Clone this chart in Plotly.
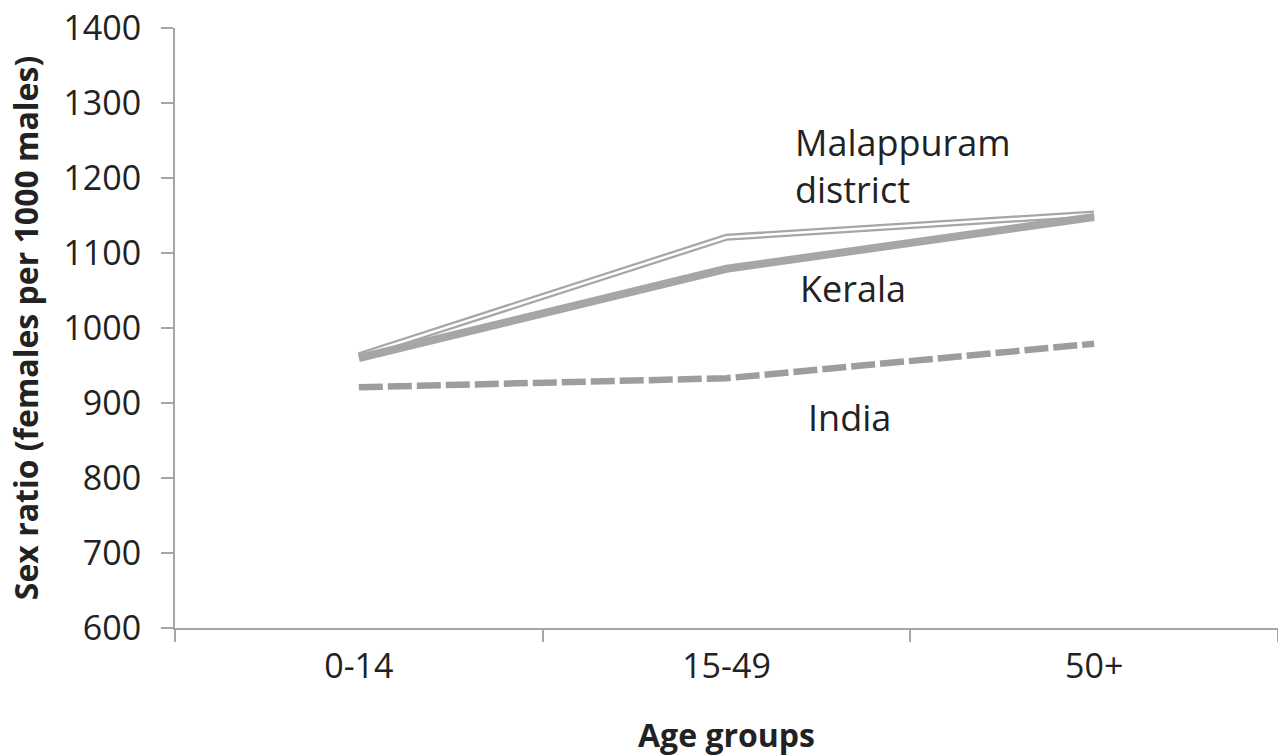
import plotly.graph_objects as go

categories = ["0-14", "15-49", "50+"]
malappuram = [963, 1121, 1152]
kerala = [960, 1079, 1148]
india = [921, 933, 979]
y_ticks = [600, 700, 800, 900, 1000, 1100, 1200, 1300, 1400]

gray = "#a6a6a8"
axis_gray = "#a6a6a6"
text_color = "#222222"
font_family = "Open Sans"

fig = go.Figure()
# Malappuram: double line (gray outline with white core)
fig.add_trace(go.Scatter(x=categories, y=malappuram, mode="lines",
                         line=dict(color=gray, width=7), showlegend=False, hoverinfo="skip"))
fig.add_trace(go.Scatter(x=categories, y=malappuram, mode="lines",
                         line=dict(color="white", width=2.5), showlegend=False, name="Malappuram district"))
fig.add_trace(go.Scatter(x=categories, y=kerala, mode="lines",
                         line=dict(color=gray, width=8), showlegend=False, name="Kerala"))
fig.add_trace(go.Scatter(x=categories, y=india, mode="lines",
                         line=dict(color="#9d9da1", width=6.5, dash="24px,5px"), showlegend=False, name="India"))

ann_font = dict(family=font_family, size=36, color=text_color)
fig.add_annotation(x=1.18, y=1216, xref="x", yref="y", text="Malappuram<br>district",
                   showarrow=False, xanchor="left", yanchor="middle", align="left", font=ann_font)
fig.add_annotation(x=1.195, y=1053, xref="x", yref="y", text="Kerala",
                   showarrow=False, xanchor="left", yanchor="middle", align="left", font=ann_font)
fig.add_annotation(x=1.215, y=881, xref="x", yref="y", text="India",
                   showarrow=False, xanchor="left", yanchor="middle", align="left", font=ann_font)

fig.update_layout(
    width=1278, height=756,
    margin=dict(l=175, r=0, t=28, b=128, autoexpand=False),
    paper_bgcolor="white", plot_bgcolor="white",
    font=dict(family=font_family, color=text_color),
)
fig.update_xaxes(
    type="category", range=[-0.5, 2.5], automargin=False,
    showline=True, linecolor=axis_gray, linewidth=2,
    ticks="outside", tickson="boundaries", ticklen=12, tickcolor=axis_gray, tickwidth=2,
    showgrid=False, zeroline=False,
    tickfont=dict(family=font_family, size=34, color=text_color),
    ticklabelstandoff=7,
    title=dict(text="<b>Age groups</b>", font=dict(family=font_family, size=32, color=text_color), standoff=38),
)
fig.update_yaxes(
    range=[600, 1400], tickvals=y_ticks, automargin=False,
    showline=True, linecolor=axis_gray, linewidth=2,
    ticks="outside", ticklen=12, tickcolor=axis_gray, tickwidth=2,
    showgrid=False, zeroline=False,
    tickfont=dict(family=font_family, size=34, color=text_color),
    ticklabelstandoff=13, ticklabeloverflow="allow",
    title=dict(text="<b>Sex ratio (females per 1000 males)</b>", font=dict(family=font_family, size=32, color=text_color), standoff=15),
)

fig.write_html("out.html", config={"displayModeBar": False},
               post_script="document.body.style.margin='0';")
